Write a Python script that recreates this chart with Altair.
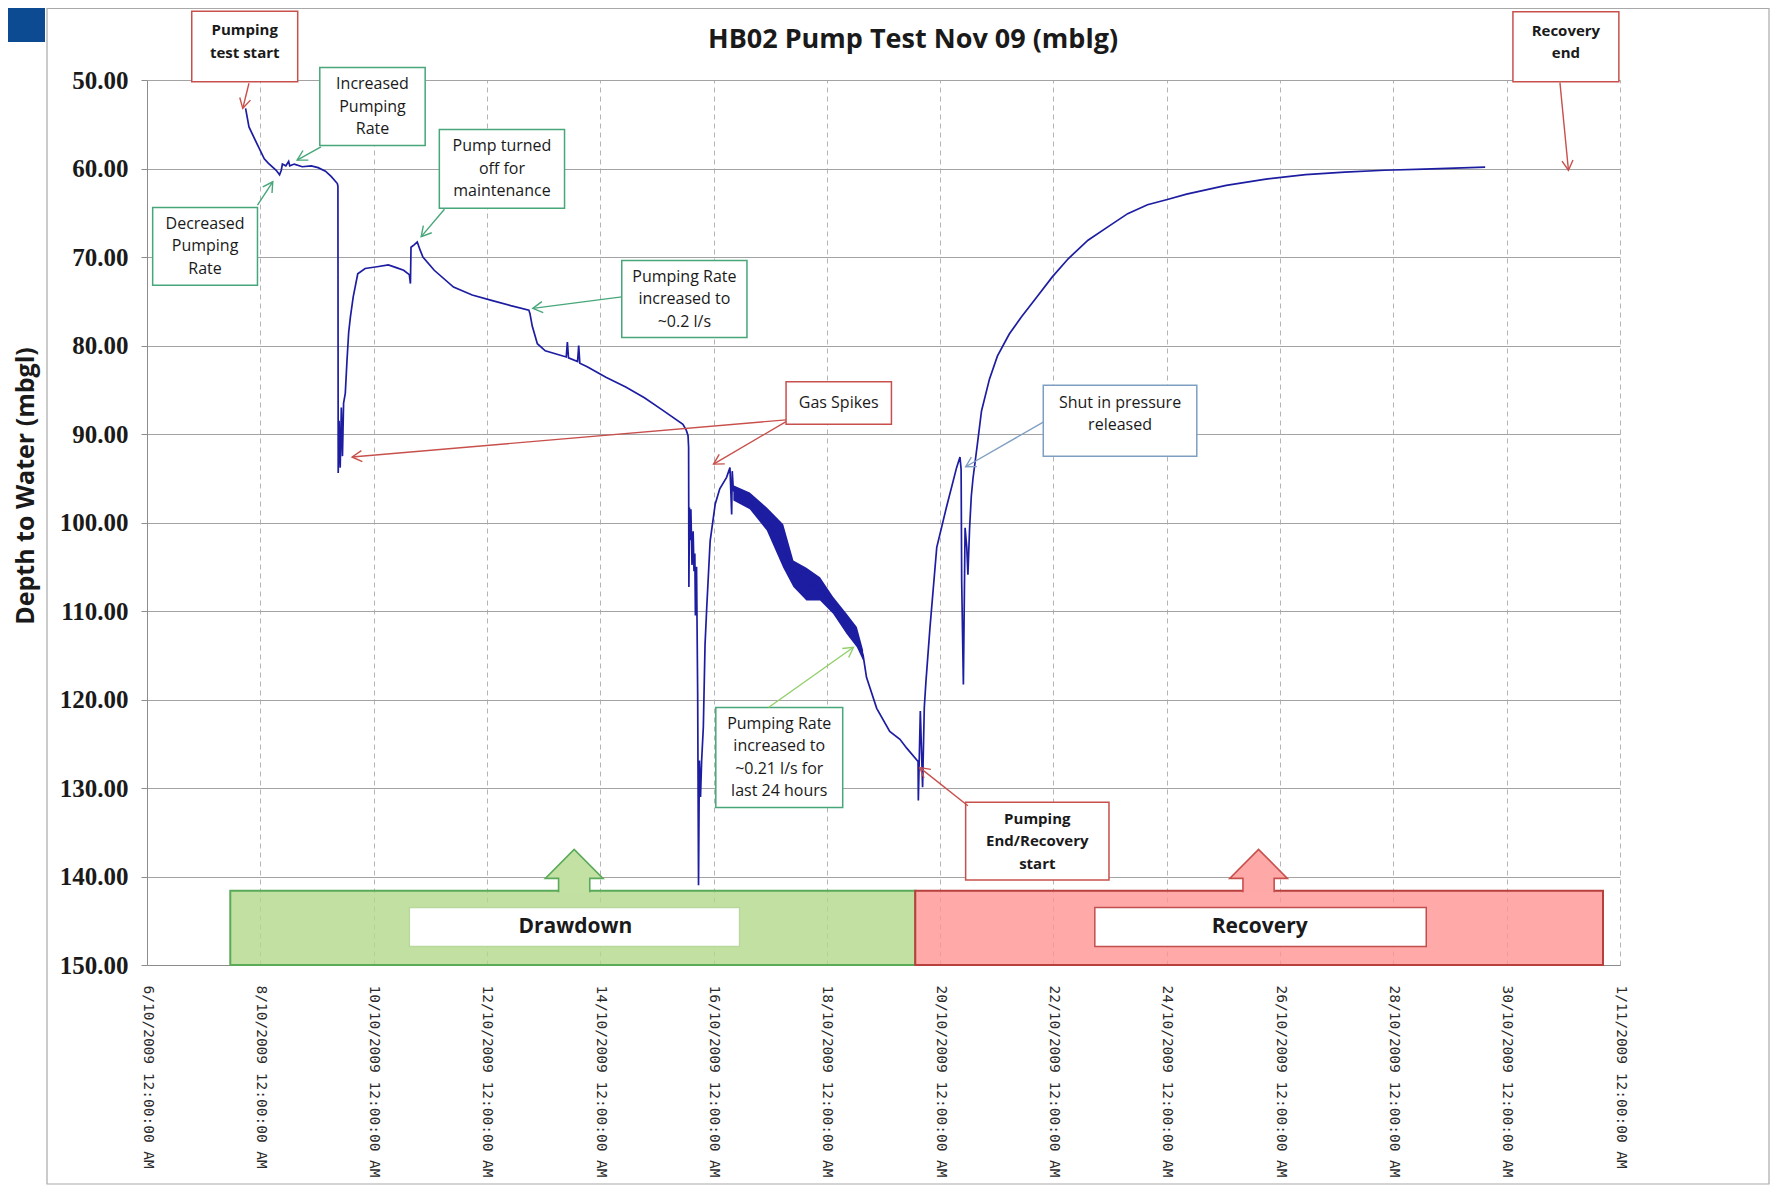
import json
import math
import altair as alt
import pandas as pd

# ---------------- data ----------------
# x: days since 6/10/2009 00:00, y: depth to water (m)
TICK_DAYS = [0, 2, 4, 6, 8, 10, 12, 14, 16, 18, 20, 22, 24, 26]
TICK_LABELS = [
    "6/10/2009 12:00:00 AM", "8/10/2009 12:00:00 AM", "10/10/2009 12:00:00 AM",
    "12/10/2009 12:00:00 AM", "14/10/2009 12:00:00 AM", "16/10/2009 12:00:00 AM",
    "18/10/2009 12:00:00 AM", "20/10/2009 12:00:00 AM", "22/10/2009 12:00:00 AM",
    "24/10/2009 12:00:00 AM", "26/10/2009 12:00:00 AM", "28/10/2009 12:00:00 AM",
    "30/10/2009 12:00:00 AM", "1/11/2009 12:00:00 AM",
]
Y_TICKS = [50, 60, 70, 80, 90, 100, 110, 120, 130, 140, 150]

TIME_DAYS = [
    1.74, 1.80, 1.94, 2.07, 2.14, 2.28, 2.34, 2.37, 2.39, 2.45, 2.50, 2.52, 2.60, 2.74,
    2.90, 3.02, 3.15, 3.25, 3.36, 3.37, 3.375, 3.39, 3.41, 3.43, 3.45, 3.47, 3.50, 3.53,
    3.56, 3.59, 3.64, 3.72, 3.85, 4.06, 4.26, 4.40, 4.53, 4.63, 4.65, 4.66, 4.72, 4.77,
    4.82, 4.87, 5.07, 5.41, 5.74, 6.08, 6.42, 6.74, 6.76, 6.80, 6.89, 7.03, 7.40, 7.42,
    7.44, 7.60, 7.62, 7.64, 7.77, 8.10, 8.45, 8.78, 9.10, 9.46, 9.52, 9.55, 9.56, 9.565,
    9.575, 9.59, 9.60, 9.62, 9.64, 9.655, 9.67, 9.68, 9.70, 9.72, 9.735, 9.75, 9.77, 9.79,
    9.82, 9.85, 9.88, 9.94, 10.03, 10.11, 10.23, 10.29, 10.32, 10.33, 10.35, 10.64, 10.94,
    11.23, 11.41, 11.64, 11.88, 12.11, 12.35, 12.53, 12.64, 12.70, 12.88, 13.11, 13.29,
    13.41, 13.61, 13.615, 13.65, 13.69, 13.72, 13.75, 13.82, 13.94, 14.11, 14.29, 14.35,
    14.37, 14.38, 14.41, 14.44, 14.47, 14.49, 14.52, 14.55, 14.58, 14.66, 14.73, 14.87,
    15.01, 15.22, 15.43, 15.71, 15.98, 16.26, 16.61, 16.96, 17.31, 17.66, 18.01, 18.35,
    19.05, 19.75, 20.45, 21.14, 21.84, 22.54, 23.62,
]
DEPTH = [
    53.2, 55.3, 57.2, 58.9, 59.4, 60.2, 60.7, 60.2, 59.5, 59.7, 59.2, 59.7, 59.5, 59.8,
    59.7, 59.9, 60.3, 60.9, 61.7, 62.0, 94.4, 88.5, 93.8, 87.0, 92.5, 86.5, 85.4, 81.7,
    78.5, 76.8, 74.5, 71.9, 71.3, 71.1, 70.9, 71.2, 71.5, 72.0, 73.0, 68.9, 68.6, 68.3,
    69.2, 70.0, 71.5, 73.4, 74.3, 74.9, 75.5, 76.0, 76.4, 77.8, 79.8, 80.6, 81.3, 79.6,
    81.4, 81.8, 80.0, 82.0, 82.4, 83.6, 84.7, 85.9, 87.3, 88.9, 89.6, 90.2, 91.5, 107.3,
    98.3, 102.0, 98.5, 104.8, 101.0, 105.5, 103.5, 110.5, 105.0, 119.4, 141.0, 126.9, 131.0, 126.9,
    123.1, 113.8, 109.6, 102.1, 97.9, 96.2, 94.9, 93.8, 99.1, 94.2, 96.4, 97.7, 99.6,
    102.6, 105.8, 107.0, 107.5, 109.3, 111.4, 112.9, 115.0, 117.5, 121.0, 123.6, 124.5,
    125.5, 127.0, 131.4, 121.3, 129.9, 120.9, 117.9, 111.9, 102.8, 98.3, 93.8, 92.6,
    94.0, 106.6, 118.3, 100.6, 102.8, 105.9, 100.6, 97.0, 95.0, 91.0, 87.4, 83.8,
    81.2, 78.7, 76.8, 74.5, 72.25, 70.2, 68.1, 66.6, 65.1, 64.1, 63.5, 62.9,
    61.9, 61.2, 60.7, 60.4, 60.2, 60.07, 59.85,
]
# noisy stretch of the record (upper and lower edge of the scatter)
NOISE_DAYS = [10.35, 10.64, 10.94, 11.23, 11.41, 11.64, 11.88, 12.11, 12.35, 12.53, 12.64]
NOISE_TOP = [95.8, 96.6, 98.3, 100.2, 104.3, 105.1, 106.2, 108.4, 110.3, 111.8, 114.4]
NOISE_BOTTOM = [97.5, 98.5, 100.9, 105.1, 107.3, 108.8, 108.8, 110.3, 112.6, 114.1, 115.6]

PHASES = ["Drawdown", "Recovery"]
PHASE_START = [1.47, 13.56]
PHASE_END = [13.56, 25.70]

# ---------------- layout / styles ----------------
W, H = 1473, 885
X_DOM = [0, 26]
Y_DOM = [50, 150]
LINE_BLUE = "#1d1da2"
RED = "#c8504c"
GREEN = "#47a67a"
LGREEN = "#92cf6a"
BLUE = "#7f9fc2"
TEXT = "#1a1a1a"

xscale = alt.Scale(domain=X_DOM, nice=False, zero=False)
yscale = alt.Scale(domain=Y_DOM, reverse=True, nice=False, zero=False)
label_expr = json.dumps(TICK_LABELS) + "[round(datum.value / 2)]"
xaxis = alt.Axis(values=TICK_DAYS, labelExpr=label_expr, labelAngle=90, labelAlign="left",
                 labelBaseline="middle", labelPadding=20, ticks=False, grid=True,
                 gridDash=[5, 4], gridColor="#b4b4b4", gridWidth=1, domainColor="#8c8c8c",
                 labelFont="DejaVu Sans Mono", labelFontSize=14.5, labelColor="#2a2a2a",
                 labelFlush=False, labelOverlap=False, labelLimit=0, title=None)
yaxis = alt.Axis(values=Y_TICKS, format=".2f", grid=True, gridColor="#a3a3a3", gridWidth=1,
                 tickSize=6, tickColor="#8c8c8c", domainColor="#8c8c8c",
                 labelFont="Liberation Serif", labelFontWeight="bold", labelFontSize=25,
                 labelColor="#1a1a1a", labelPadding=13, labelFlush=False, title=None)


def X(f="x"):
    return alt.X(f"{f}:Q", scale=xscale, axis=xaxis)


def Y(f="y"):
    return alt.Y(f"{f}:Q", scale=yscale, axis=yaxis)


# annotation boxes: x1, x2 (days), y1, y2 (depth), colour, bold, lines, text centre
BOXES = [
    (0.79, 2.66, 42.24, 50.19, RED, True, ["Pumping", "test start"], 45.67),
    (3.05, 4.91, 48.6, 57.4, GREEN, False, ["Increased", "Pumping", "Rate"], None),
    (0.10, 1.95, 64.4, 73.2, GREEN, False, ["Decreased", "Pumping", "Rate"], None),
    (5.16, 7.37, 55.6, 64.5, GREEN, False, ["Pump turned", "off for", "maintenance"], None),
    (8.38, 10.59, 70.4, 79.1, GREEN, False, ["Pumping Rate", "increased to", "~0.2 l/s"], None),
    (11.28, 13.14, 84.1, 88.9, RED, False, ["Gas Spikes"], None),
    (10.04, 12.28, 120.9, 132.2, GREEN, False,
     ["Pumping Rate", "increased to", "~0.21 l/s for", "last 24 hours"], None),
    (14.45, 16.98, 131.6, 140.4, RED, True, ["Pumping", "End/Recovery", "start"], None),
    (15.82, 18.53, 84.5, 92.5, BLUE, False, ["Shut in pressure", "released"], 87.76),
    (24.11, 25.98, 42.3, 50.2, RED, True, ["Recovery", "end"], 45.73),
]
ARROWS = [
    (1.80, 50.37, 1.69, 53.2, RED),
    (3.07, 57.55, 2.65, 59.05, GREEN),
    (1.95, 64.14, 2.22, 61.5, GREEN),
    (5.25, 64.6, 4.84, 67.7, GREEN),
    (8.38, 74.5, 6.81, 75.8, GREEN),
    (11.28, 88.4, 3.62, 92.6, RED),
    (11.28, 88.6, 10.00, 93.4, RED),
    (10.97, 120.9, 12.47, 114.1, LGREEN),
    (14.49, 132.0, 13.64, 127.7, RED),
    (15.82, 88.65, 14.45, 93.7, BLUE),
    (24.94, 50.3, 25.09, 60.2, RED),
]

LINE_STEP = 22.5 * (Y_DOM[1] - Y_DOM[0]) / H  # text line spacing in depth units

box_rows, text_rows = [], []
for (x1, x2, y1, y2, col, bold, lines, tc) in BOXES:
    box_rows.append(dict(x=x1, x2=x2, y=y1, y2=y2, col=col))
    c = tc if tc is not None else (y1 + y2) / 2
    n = len(lines)
    for i, ln in enumerate(lines):
        text_rows.append(dict(x=(x1 + x2) / 2, y=c + (i - (n - 1) / 2) * LINE_STEP,
                              t=ln, bold=bold))
boxes_df = pd.DataFrame(box_rows)
texts_df = pd.DataFrame(text_rows)

arrow_rows = []
for (x1, y1, x2, y2, col) in ARROWS:
    dx = (x2 - x1) * W / (X_DOM[1] - X_DOM[0])
    dy = (y2 - y1) * H / (Y_DOM[1] - Y_DOM[0])
    ang = math.degrees(math.atan2(dx, -dy)) % 360
    arrow_rows.append(dict(x=x1, y=y1, x2=x2, y2=y2, hx=x2, hy=y2, col=col, ang=ang))
arrows_df = pd.DataFrame(arrow_rows)

series_df = pd.DataFrame({"x": TIME_DAYS, "y": DEPTH, "i": range(len(TIME_DAYS))})
noise_df = pd.DataFrame({"x": NOISE_DAYS, "y": NOISE_TOP, "y2": NOISE_BOTTOM})

phase_df = pd.DataFrame({
    "x": PHASE_START, "x2": PHASE_END, "y": [141.6, 141.6], "y2": [150.0, 150.0],
    "fill": ["#b3d88b", "#ff9494"], "stroke": ["#5aaa5a", "#b8403c"],
})
phase_arrow_df = pd.DataFrame({
    "x": [7.54, 19.62], "y": [139.27, 139.27],
    "fill": ["#c4e1a4", "#ffa8a8"], "stroke": ["#5aaa5a", "#c8504c"],
})
phase_label_df = pd.DataFrame({
    "x": [4.63, 16.73], "x2": [10.46, 22.58], "y": [143.5, 143.5], "y2": [147.9, 147.9],
    "stroke": ["#b9d99c", "#c0504d"], "tx": [7.56, 19.64], "ty": [145.75, 145.75],
    "t": PHASES,
})

# ---------------- layers ----------------
frame = alt.Chart(pd.DataFrame({"a": [0]})).mark_rect(
    fillOpacity=0, stroke="#a9a9a9", strokeWidth=1.2
).encode(x=alt.value(-100), x2=alt.value(1622), y=alt.value(-71.5), y2=alt.value(1104))

corner = alt.Chart(pd.DataFrame({"a": [0]})).mark_rect(color="#0c4a92").encode(
    x=alt.value(-139), x2=alt.value(-102), y=alt.value(-72), y2=alt.value(-38))

title = alt.Chart(pd.DataFrame({"t": ["HB02 Pump Test Nov 09 (mblg)"]})).mark_text(
    font="Open Sans", fontSize=27, fontWeight="bold", color=TEXT, align="center",
    baseline="middle"
).encode(text="t:N", x=alt.value(766), y=alt.value(-40))

ytitle = alt.Chart(pd.DataFrame({"t": ["Depth to Water (mbgl)"]})).mark_text(
    font="Open Sans", fontSize=25, fontWeight="bold", color=TEXT, align="center",
    baseline="middle", angle=270
).encode(text="t:N", x=alt.value(-121), y=alt.value(406))

phase_rect = alt.Chart(phase_df).mark_rect(strokeWidth=2, fillOpacity=0.8).encode(
    x=X(), x2=alt.X2("x2:Q"), y=Y(), y2=alt.Y2("y2:Q"),
    fill=alt.Fill("fill:N", scale=None), stroke=alt.Stroke("stroke:N", scale=None))

ARROW_SHAPE = ("M-0.52,0.74 L-0.52,0.277 L-0.96,0.277 L0,-0.69 L0.96,0.277 "
               "L0.52,0.277 L0.52,0.74")
phase_arrow = alt.Chart(phase_arrow_df).mark_point(
    shape=ARROW_SHAPE, size=3600, filled=True, opacity=1, strokeWidth=1.6
).encode(x=X(), y=Y(), fill=alt.Fill("fill:N", scale=None),
         stroke=alt.Stroke("stroke:N", scale=None))

phase_label_box = alt.Chart(phase_label_df).mark_rect(fill="white", strokeWidth=1.5).encode(
    x=X(), x2=alt.X2("x2:Q"), y=Y(), y2=alt.Y2("y2:Q"),
    stroke=alt.Stroke("stroke:N", scale=None))
phase_label_txt = alt.Chart(phase_label_df).mark_text(
    font="Open Sans", fontSize=21, fontWeight="bold", color=TEXT, baseline="middle",
    align="center"
).encode(x=alt.X("tx:Q", scale=xscale, axis=xaxis),
         y=alt.Y("ty:Q", scale=yscale, axis=yaxis), text="t:N")

noise = alt.Chart(noise_df).mark_area(color=LINE_BLUE, opacity=1).encode(
    x=X(), y=Y(), y2=alt.Y2("y2:Q"))
line = alt.Chart(series_df).mark_line(color=LINE_BLUE, strokeWidth=1.7).encode(
    x=X(), y=Y(), order=alt.Order("i:Q"))

box = alt.Chart(boxes_df).mark_rect(fill="white", strokeWidth=1.5).encode(
    x=X(), x2=alt.X2("x2:Q"), y=Y(), y2=alt.Y2("y2:Q"),
    stroke=alt.Stroke("col:N", scale=None))

txt_reg = alt.Chart(texts_df[~texts_df["bold"]]).mark_text(
    font="Open Sans", fontSize=16, color=TEXT, align="center", baseline="middle"
).encode(x=X(), y=Y(), text="t:N")
txt_bold = alt.Chart(texts_df[texts_df["bold"]]).mark_text(
    font="Open Sans", fontSize=15, fontWeight="bold", color=TEXT, align="center",
    baseline="middle"
).encode(x=X(), y=Y(), text="t:N")

arrow_line = alt.Chart(arrows_df).mark_rule(strokeWidth=1.4).encode(
    x=X(), y=Y(), x2=alt.X2("x2:Q"), y2=alt.Y2("y2:Q"),
    color=alt.Color("col:N", scale=None))
arrow_head = alt.Chart(arrows_df).mark_point(
    shape="M-0.45,0.8 L0,0 L0.45,0.8", size=600, filled=False, opacity=1, strokeWidth=1.4
).encode(x=alt.X("hx:Q", scale=xscale, axis=xaxis), y=alt.Y("hy:Q", scale=yscale, axis=yaxis),
         angle=alt.Angle("ang:Q", scale=None), color=alt.Color("col:N", scale=None))

chart = alt.layer(
    frame, corner, phase_rect, phase_arrow, phase_label_box, phase_label_txt,
    noise, line, box, txt_reg, txt_bold, arrow_line, arrow_head, title, ytitle
).properties(
    width=W, height=H,
    autosize=alt.AutoSizeParams(type="none"),
    padding={"left": 139, "top": 72, "right": 151, "bottom": 221},
    background="white",
).configure_view(stroke="transparent")

chart.save("out.html", embed_options={"renderer": "svg", "actions": False})
